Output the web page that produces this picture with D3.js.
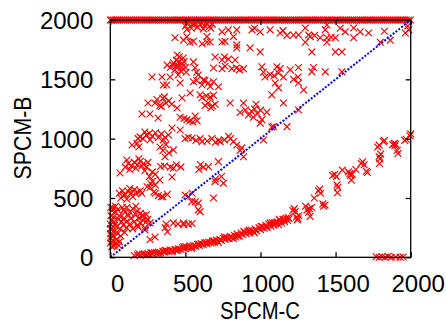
<!DOCTYPE html>
<html><head><meta charset="utf-8">
<script src="https://cdn.jsdelivr.net/npm/d3@7"></script>
<style>body{margin:0;background:#fff}svg{display:block}</style>
</head><body>
<svg id="c" width="446" height="324"></svg>
<script>
// ---- data: [SPCM-C, SPCM-B] pairs ----
const xTicks = [0, 500, 1000, 1500, 2000];
const yTicks = [0, 500, 1000, 1500, 2000];
const xLabel = "SPCM-C";
const yLabel = "SPCM-B";

// saturated readings at SPCM-B = 2000
const topC = [0,10,22,35,48,60,75,88,100,115,128,140,155,170,182,195,210,225,238,250,265,280,292,305,320,335,348,360,375,390,402,415,430,445,458,470,485,500,512,525,540,555,568,580,595,610,622,635,650,665,678,690,705,720,732,745,760,775,788,800,815,830,842,855,870,885,898,910,925,940,952,965,980,995,1008,1020,1035,1050,1062,1075,1090,1105,1118,1130,1145,1160,1172,1185,1200,1215,1228,1240,1255,1270,1282,1295,1310,1325,1338,1350,1365,1380,1392,1405,1420,1435,1448,1460,1475,1490,1502,1515,1530,1545,1558,1570,1585,1600,1612,1625,1640,1655,1668,1680,1695,1710,1722,1735,1750,1765,1778,1790,1805,1820,1832,1845,1860,1875,1888,1900,1915,1930,1942,1955,1970,1985,1998];
const topB = 2000;

// readings at SPCM-B ~ 0
const zeroPts = [[1770,5],[1790,0],[1810,5],[1830,0],[1850,8],[1870,0],[1900,3],[1930,0],[1950,2]];

// lower branch (B < C)
const lowerBand = [[160,15],[180,22],[200,18],[215,28],[230,25],[250,30],[265,22],[280,35],[295,40],[310,33],[320,45],[335,38],[350,50],[360,44],[375,55],[390,48],[400,62],[415,56],[430,65],[440,58],[455,72],[470,66],[480,80],[495,74],[505,88],[520,82],[530,95],[545,86],[555,100],[570,92],[580,108],[595,100],[605,115],[620,106],[630,122],[645,112],[655,128],[670,120],[680,136],[695,128],[705,145],[715,135],[730,150],[740,142],[755,160],[765,150],[775,168],[790,158],[800,176],[810,165],[825,185],[835,172],[845,195],[860,180],[870,205],[880,190],[895,210],[905,198],[915,220],[930,205],[940,228],[955,215],[965,238],[975,222],[990,250],[1000,232],[1010,262],[1025,245],[1035,270],[1045,252],[1055,280],[1070,262],[1080,290],[1090,270],[1100,285],[1110,300],[1120,275],[1130,310],[1140,290],[1150,320],[1160,300],[1170,330],[1180,310],[1190,325],[1215,395],[1225,410],[1230,385],[1240,340],[1250,325],[1255,350],[1245,315],
[190,30],[240,20],[270,40],[325,30],[365,58],[410,48],[450,62],[490,90],[540,75],[590,112],[640,125],[690,140],[720,125],[760,172],[820,158],[850,178],[890,220],[925,230],[960,205],[1005,260],[1040,255],[1065,290],[1095,292],[1125,320],[1160,315],[1185,335]];

const lowerRight = [[1300,430],[1310,400],[1320,380],[1325,410],[1330,345],[1340,420],[1358,500],[1385,560],[1395,575],[1400,540],[1415,450],[1420,430],[1430,440],[1480,690],[1495,700],[1505,680],[1510,610],[1515,590],[1512,545],[1545,735],[1585,720],[1595,705],[1600,690],[1605,650],[1610,700],[1635,740],[1670,790],[1680,805],[1690,780],[1705,725],[1712,715],[1780,930],[1790,945],[1795,830],[1790,850],[1792,790],[1800,870],[1818,975],[1825,985],[1880,950],[1890,960],[1895,940],[1900,955],[1910,900],[1915,875],[1960,985],[1970,995],[1995,1025],[2000,1040]];

// upper branch (B > C)
const upperLow = [[0,120],[5,160],[2,200],[8,240],[0,280],[10,310],[4,350],[12,390],[3,420],[15,140],[20,180],[18,260],[25,300],[22,340],[30,220],[35,380],[28,110],[40,150],[45,260],[50,200],[55,320],[48,400],[60,350],[65,240],[70,180],[75,300],[80,420],[85,270],[90,330],[95,210],[100,380],[105,300],[110,250],[120,350],[130,280],[140,330],[150,240],[160,300],[170,360],[180,270],[190,330],[200,290],[210,350],[220,310],[230,250],[240,300],[250,320],[265,290],[185,255],[231,230],[298,171],[265,150],[365,250],[380,215],[372,280],[420,290],[450,280],[490,275],[520,280],[545,285],[10,90],[25,95],[40,120],[60,130],[0,240],[8,180],[30,270],[55,100],[15,420],[35,430],
[90,400],[110,420],[130,380],[150,410],[170,430],[180,390],[200,370],[220,350],[240,360]];

const upper500 = [[60,540],[80,560],[100,530],[120,555],[140,545],[160,570],[180,550],[200,560],[70,500],[110,490],[150,510],[90,525],[130,580],[170,535],[210,540],[245,595],[265,590],[290,550],[320,520],[350,510],
[498,525],[520,510],[545,540],[565,467],[586,400],[598,385],[587,457],[542,469],[687,500],[698,638],[753,625],[700,660],[740,680],[487,289],[300,540],[340,510],[380,530]];

const upper800 = [[100,760],[120,790],[140,770],[160,800],[180,780],[200,810],[220,790],[240,760],[130,740],[170,750],[210,770],[250,800],[110,820],[190,830],[230,730],[260,680],[280,720],[300,700],[65,710],[335,765],[360,770],[400,760],[420,750],[440,780],[470,760],[411,677],[330,652],[300,610],[280,640],[270,620],[600,780],[620,760],[590,740],[653,764],[720,806]];

const upper1000 = [[145,946],[178,960],[185,1000],[198,1015],[190,930],[218,1000],[240,1030],[260,1045],[280,1020],[300,1050],[320,1010],[340,1040],[353,990],[265,990],[230,1056],[365,1010],[387,1031],[331,930],[350,900],[370,950],[390,880],[364,848],[420,905],[411,1090],[465,1073],[498,1000],[520,1010],[545,1005],[570,985],[598,1000],[611,975],[645,980],[676,1000],[700,970],[720,985],[731,975],[760,990],[787,1020],[800,1000],[820,975],[842,946],[876,922],[864,900],[887,848],[1020,989],[1087,1101],[1176,1101]];

const upper1300 = [[211,1208],[251,1300],[264,1208],[298,1300],[310,1330],[330,1280],[350,1340],[370,1300],[390,1320],[409,1290],[318,1174],[340,1270],[360,1352],[478,1343],[445,1258],[465,1180],[490,1170],[510,1160],[530,1150],[550,1140],[565,1190],[578,1150],[531,1385],[598,1370],[611,1345],[640,1360],[665,1350],[687,1365],[631,1280],[650,1300],[670,1260],[698,1290],[680,1275],[798,1300],[887,1300],[864,1220],[900,1241],[920,1200],[940,1230],[953,1180],[960,1250],[980,1210],[1000,1240],[1009,1160],[970,1290],[1042,1224],[998,1131],[1075,1098],[1153,1300],[1075,1369],[1120,1428],[1098,1469],[1253,1242]];

const upper1600 = [[278,1520],[344,1520],[353,1452],[376,1452],[398,1520],[452,1537],[465,1469],[553,1480],[575,1490],[620,1495],[400,1600],[420,1640],[430,1580],[440,1660],[450,1610],[460,1690],[470,1570],[480,1630],[490,1650],[500,1600],[505,1560],[415,1620],[435,1610],[455,1650],[475,1600],[485,1680],[445,1705],[378,1620],[553,1647],[564,1597],[575,1560],[586,1536],[611,1452],[630,1490],[653,1470],[665,1440],[687,1480],[720,1437],[687,1595],[698,1688],[744,1663],[760,1688],[786,1670],[831,1663],[744,1590],[764,1610],[809,1590],[840,1595],[860,1580],[887,1590],[1009,1605],[1020,1560],[1031,1520],[1064,1540],[1090,1530],[1120,1553],[1153,1520],[1109,1605],[1131,1590],[1198,1580],[1253,1600],[1250,1520],[1253,1469],[1287,1410],[1342,1563],[1353,1600],[1431,1563],[1542,1563],[1220,1500]];

const upper1900 = [[431,1850],[487,1830],[510,1858],[553,1820],[531,1812],[612,1800],[644,1815],[665,1815],[744,1815],[764,1820],[820,1860],[842,1790],[842,1765],[931,1765],[998,1731],[1298,1812],[1342,1731],[1442,1812],[1498,1731],[1542,1731],[1331,1860],[1360,1870],[1398,1850],[1442,1850],[1470,1855],[1498,1850],[1620,1850],[1720,1890],[1798,1812],[1864,1830],[1825,1905],[1220,1874],[1253,1874],[1320,1874],[1131,1890],[1150,1910],[1176,1870],[644,1860],[744,1900],[786,1917],[842,1917],[944,1917],[960,1930],[998,1900],[1064,1917],[1298,1933],[1431,1917],[1442,1958],[1531,1930],[1564,1900],[1620,1933],[1664,1900],[1964,1890],[1987,1917],[1980,1950],
[500,1950],[520,1970],[540,1930],[560,1980],[580,1940],[600,1960],[620,1925],[640,1975],[660,1945],[680,1965],[510,1920],[550,1960],[590,1990],[630,1950],[670,1930]];

const diagonal = [[0,0],[2000,2000]];

// ---- drawing ----
const svg = d3.select("#c");
const m = {l:110.3, r:410.7, t:20, b:257.3};
const x = d3.scaleLinear().domain([0,2000]).range([m.l, m.r]);
const y = d3.scaleLinear().domain([0,2000]).range([m.b, m.t]);
const font = "'Liberation Sans', Arial, sans-serif";

const allPts = [].concat(
  topC.map(c => [c, topB]), zeroPts, lowerBand, lowerRight,
  upperLow, upper500, upper800, upper1000, upper1300, upper1600, upper1900);

const marker = "M-3.4,-3.4L3.4,3.4M-3.4,3.4L3.4,-3.4";
svg.append("g").selectAll("path").data(allPts).join("path")
  .attr("d", marker)
  .attr("transform", d => `translate(${x(d[0])},${y(d[1])})`)
  .attr("fill", "none").attr("stroke", "#ff0000").attr("stroke-width", 1.15);

svg.append("path").datum(diagonal)
  .attr("d", d3.line().x(d => x(d[0])).y(d => y(d[1])))
  .attr("stroke", "#0000ff").attr("stroke-width", 2)
  .attr("stroke-dasharray", "2,1.6").attr("fill", "none");

// frame
svg.append("rect").attr("x", m.l).attr("y", m.t).attr("width", m.r - m.l).attr("height", m.b - m.t)
  .attr("fill", "none").attr("stroke", "#000").attr("stroke-width", 1.3);

// ticks (inward, mirrored)
const gx = svg.append("g").attr("transform", `translate(0,${m.b})`)
  .call(d3.axisBottom(x).tickValues(xTicks).tickSize(-5).tickPadding(0).tickFormat(d3.format("d")));
const gxt = svg.append("g").attr("transform", `translate(0,${m.t})`)
  .call(d3.axisTop(x).tickValues(xTicks).tickSize(-5).tickFormat(""));
const gy = svg.append("g").attr("transform", `translate(${m.l},0)`)
  .call(d3.axisLeft(y).tickValues(yTicks).tickSize(-5).tickPadding(0).tickFormat(d3.format("d")));
const gyr = svg.append("g").attr("transform", `translate(${m.r},0)`)
  .call(d3.axisRight(y).tickValues(yTicks).tickSize(-5).tickFormat(""));
[gx, gxt, gy, gyr].forEach(g => {
  g.select(".domain").remove();
  g.selectAll("line").attr("stroke", "#000").attr("stroke-width", 1.3);
});
gx.selectAll("text").attr("font-family", font).attr("font-size", 24).attr("fill", "#000")
  .attr("dx", 7).attr("y", 35).attr("dy", 0);
gy.selectAll("text").attr("font-family", font).attr("font-size", 24).attr("fill", "#000")
  .attr("x", -17).attr("dy", "0.36em");

svg.append("text").attr("x", 260).attr("y", 318.8).attr("text-anchor", "middle")
  .attr("font-family", font).attr("font-size", 23.5).attr("fill", "#000")
  .attr("textLength", 80).attr("lengthAdjust", "spacingAndGlyphs")
  .text(xLabel);
svg.append("text").attr("transform", "translate(31,138) rotate(-90)").attr("text-anchor", "middle")
  .attr("font-family", font).attr("font-size", 23.5).attr("fill", "#000")
  .attr("textLength", 83).attr("lengthAdjust", "spacingAndGlyphs")
  .text(yLabel);
</script>
</body></html>
